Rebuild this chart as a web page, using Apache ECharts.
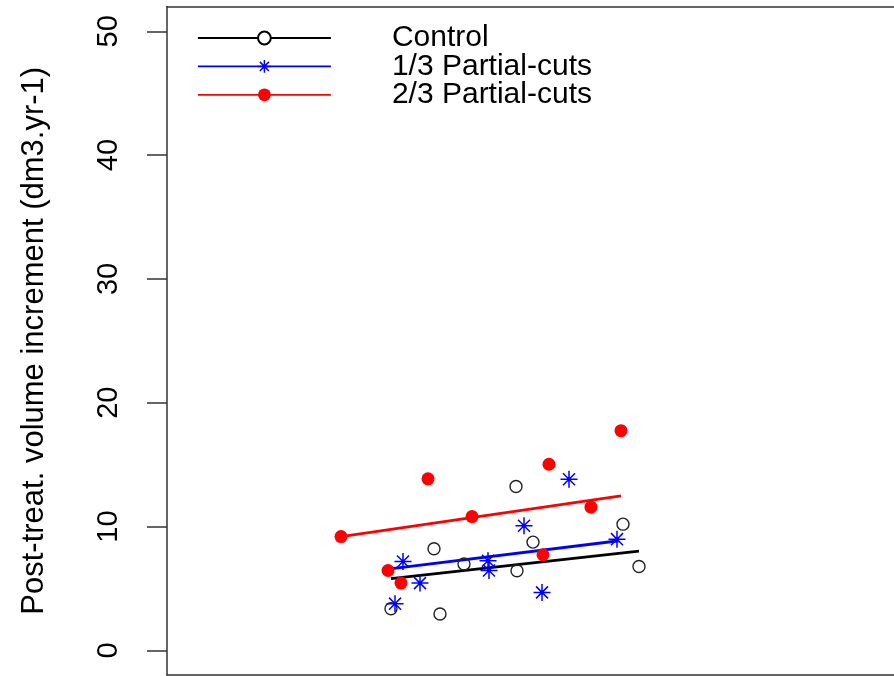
<!DOCTYPE html>
<html>
<head>
<meta charset="utf-8">
<script src="https://cdn.jsdelivr.net/npm/echarts@6/dist/echarts.min.js"></script>
<style>html,body{margin:0;padding:0;background:#fff;}#chart{width:894px;height:676px;}</style>
</head>
<body>
<div id="chart"></div>
<script>
// Data (x in arbitrary hidden units)
const seriesNames = ['Control', '1/3 Partial-cuts', '2/3 Partial-cuts'];
const yTicks = [0, 10, 20, 30, 40, 50];

const controlPoints = [[26.7, 8.2], [29.7, 6.97], [22.4, 3.36], [27.3, 2.93], [34.9, 13.23], [36.6, 8.74], [45.6, 10.19], [47.2, 6.77], [35.0, 6.43]];
const partial13Points = [[23.6, 7.18], [25.3, 5.43], [22.8, 3.77], [32.1, 7.23], [32.2, 6.45], [35.7, 10.06], [40.2, 13.82], [37.5, 4.68], [45.0, 8.98]];
const partial23Points = [[17.4, 9.19], [26.1, 13.85], [30.5, 10.8], [38.2, 15.03], [42.4, 11.56], [45.4, 17.74], [22.1, 6.45], [23.4, 5.43], [37.6, 7.72]];

const controlFit = [[22.4, 5.8], [47.2, 8.02]];
const partial13Fit = [[22.5, 6.6], [45.2, 8.85]];
const partial23Fit = [[17.4, 9.19], [45.4, 12.48]];

const FONT = "'Liberation Sans', Arial, sans-serif";
const ASTERISK = 'path://M0,-10L0,10M-10,0L10,0M-7.07,-7.07L7.07,7.07M-7.07,7.07L7.07,-7.07';
const frameLine = { show: true, onZero: false, lineStyle: { color: '#333', width: 1.5 } };

const chart = echarts.init(document.getElementById('chart'));
chart.setOption({
  animation: false,
  backgroundColor: '#fff',
  textStyle: { fontFamily: FONT },
  grid: { left: 167, top: 6.5, right: 0, height: 668.6, show: false },
  legend: {
    orient: 'vertical', left: 197, top: 23, padding: 0, itemWidth: 133, itemHeight: 16, itemGap: -1.6,
    textStyle: { fontFamily: FONT, fontSize: 30, color: '#000', padding: [0, 0, 0, 56] },
    lineStyle: { width: 1.8 },
    data: [
      { name: seriesNames[0] },
      { name: seriesNames[1], itemStyle: { color: 'none', borderColor: '#0000ff', borderWidth: 1.5 } },
      { name: seriesNames[2] }
    ]
  },
  xAxis: [
    { type: 'value', min: 0, max: 72.7, position: 'bottom', axisLine: frameLine, axisTick: { show: false }, axisLabel: { show: false }, splitLine: { show: false } },
    { type: 'value', min: 0, max: 72.7, position: 'top', axisLine: frameLine, axisTick: { show: false }, axisLabel: { show: false }, splitLine: { show: false } }
  ],
  yAxis: {
    type: 'value', min: -2, max: 52,
    name: 'Post-treat. volume increment (dm3.yr-1)', nameLocation: 'middle', nameGap: 117, nameRotate: 90,
    nameTextStyle: { fontFamily: FONT, fontSize: 31, color: '#000' },
    axisLine: frameLine,
    axisTick: { show: true, length: 20, lineStyle: { color: '#333', width: 1.5 }, customValues: yTicks },
    axisLabel: { rotate: 90, margin: 44, fontFamily: FONT, fontSize: 29, color: '#000', customValues: yTicks },
    splitLine: { show: false }
  },
  series: [
    { name: seriesNames[0], type: 'line', data: controlFit, symbol: 'emptyCircle', showSymbol: false, lineStyle: { color: '#000', width: 2.8 }, itemStyle: { color: '#000' }, z: 2 },
    { name: seriesNames[1], type: 'line', data: partial13Fit, symbol: ASTERISK, showSymbol: false, lineStyle: { color: '#0000ff', width: 2.8 }, itemStyle: { color: '#0000ff' }, z: 2 },
    { name: seriesNames[2], type: 'line', data: partial23Fit, symbol: 'circle', showSymbol: false, lineStyle: { color: '#ff0000', width: 2.8 }, itemStyle: { color: '#ff0000' }, z: 2 },
    { name: seriesNames[0], type: 'scatter', data: controlPoints, symbol: 'circle', symbolSize: 12, itemStyle: { color: 'rgba(0,0,0,0)', borderColor: '#222', borderWidth: 1.4, opacity: 1 }, z: 3 },
    { name: seriesNames[1], type: 'scatter', data: partial13Points, symbol: ASTERISK, symbolSize: 17, itemStyle: { color: 'none', borderColor: '#0000ff', borderWidth: 1.5, opacity: 1 }, z: 3 },
    { name: seriesNames[2], type: 'scatter', data: partial23Points, symbol: 'circle', symbolSize: 13, itemStyle: { color: '#ff0000', opacity: 1 }, z: 3 }
  ]
});
</script>
</body>
</html>
